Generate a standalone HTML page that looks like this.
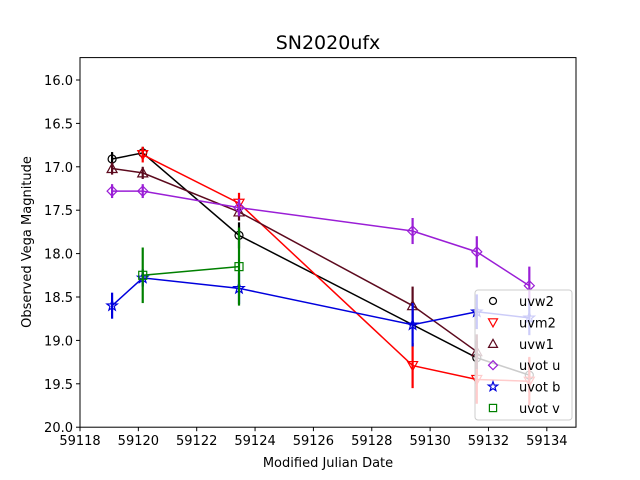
<!DOCTYPE html>
<html><head><meta charset="utf-8"><style>
body{margin:0;background:#fff;}
svg{display:block;font-family:"DejaVu Sans","Liberation Sans",sans-serif;}
</style></head><body>
<svg id="c" width="640" height="480">
<text x="328" y="49" font-size="19" text-anchor="middle">SN2020ufx</text>
<g id="plot"></g>
<rect x="80" y="57.6" width="496" height="369.6" fill="none" stroke="#000" stroke-width="1"/>
<g id="axes"></g>
<text x="328" y="467" font-size="13" text-anchor="middle">Modified Julian Date</text>
<text transform="translate(31,242) rotate(-90)" font-size="13" text-anchor="middle">Observed Vega Magnitude</text>
<g id="legend"></g>
</svg>
<script>
const xTicks=[59118,59120,59122,59124,59126,59128,59130,59132,59134];
const yTicks=[16.0,16.5,17.0,17.5,18.0,18.5,19.0,19.5,20.0];
const bandNames=["uvw2","uvm2","uvw1","uvot u","uvot b","uvot v"];
const uvw2X=[59119.1,59120.15,59123.45,59131.6,59133.4];
const uvw2Y=[16.91,16.84,17.79,19.2,19.4];
const uvw2E=[0.08,0.07,0.15,0.2,0.2];
const uvm2X=[59120.15,59123.45,59129.4,59131.6,59133.4];
const uvm2Y=[16.86,17.42,19.29,19.45,19.47];
const uvm2E=[0.09,0.12,0.26,0.28,0.28];
const uvw1X=[59119.1,59120.15,59123.45,59129.4,59131.6];
const uvw1Y=[17.02,17.07,17.52,18.6,19.13];
const uvw1E=[0.07,0.07,0.1,0.22,0.2];
const uvuX=[59119.1,59120.15,59123.45,59129.4,59131.6,59133.4];
const uvuY=[17.28,17.28,17.47,17.74,17.98,18.37];
const uvuE=[0.08,0.08,0.1,0.15,0.18,0.22];
const uvbX=[59119.1,59120.15,59123.45,59129.4,59131.6,59133.4];
const uvbY=[18.6,18.28,18.4,18.82,18.67,18.74];
const uvbE=[0.15,0.1,0.18,0.25,0.2,0.2];
const uvvX=[59120.15,59123.45];
const uvvY=[18.25,18.15];
const uvvE=[0.32,0.45];
const X0=59118,X1=59135,Y0=15.742,Y1=20.0,L=80,R=576,T=57.6,B=427.2;
const sx=v=>L+(v-X0)/(X1-X0)*(R-L);
const sy=v=>T+(v-Y0)/(Y1-Y0)*(B-T);
const NS="http://www.w3.org/2000/svg";
function mk(tag,attrs,parent){const e=document.createElementNS(NS,tag);for(const k in attrs)e.setAttribute(k,attrs[k]);parent.appendChild(e);return e;}
const axes=document.getElementById('axes');
xTicks.forEach(t=>{const x=sx(t);
 const l=mk('line',{x1:x,x2:x,y1:B,y2:B+4,stroke:'#000'},axes);
 
 
 const tx=mk('text',{x:x,y:B+18,'font-size':13,'text-anchor':'middle'},axes);tx.textContent=t;
 
 });
yTicks.forEach(t=>{const y=sy(t);
 const l=mk('line',{x1:L-4,x2:L,y1:y,y2:y,stroke:'#000'},axes);
 
 
 const tx=mk('text',{x:L-7,y:y+5,'font-size':13,'text-anchor':'end'},axes);tx.textContent=t.toFixed(1);
 
 });
function marker(kind,x,y,color,g,s){
 s=s||5;
 if(kind==='o')return mk('circle',{cx:x,cy:y,r:s-1,fill:'none',stroke:color,'stroke-width':1.2},g);
 if(kind==='v')return mk('polygon',{points:`${x-s},${y-s*0.8} ${x+s},${y-s*0.8} ${x},${y+s}`,fill:'none',stroke:color,'stroke-width':1.2},g);
 if(kind==='^')return mk('polygon',{points:`${x-s},${y+s*0.8} ${x+s},${y+s*0.8} ${x},${y-s}`,fill:'none',stroke:color,'stroke-width':1.2},g);
 if(kind==='D')return mk('polygon',{points:`${x},${y-s} ${x+s},${y} ${x},${y+s} ${x-s},${y}`,fill:'none',stroke:color,'stroke-width':1.2},g);
 if(kind==='*'){let p=[];for(let i=0;i<10;i++){const r=i%2?s*0.45:s*1.1;const a=-Math.PI/2+i*Math.PI/5;p.push((x+r*Math.cos(a)).toFixed(1)+','+(y+r*Math.sin(a)).toFixed(1));}return mk('polygon',{points:p.join(' '),fill:'none',stroke:color,'stroke-width':1.2},g);}
 return mk('rect',{x:x-s*0.8,y:y-s*0.8,width:s*1.6,height:s*1.6,fill:'none',stroke:color,'stroke-width':1.2},g);
}
const series=[
 {n:'uvw2',x:uvw2X,y:uvw2Y,e:uvw2E,c:'#000000',m:'o'},
 {n:'uvm2',x:uvm2X,y:uvm2Y,e:uvm2E,c:'#ff0000',m:'v'},
 {n:'uvw1',x:uvw1X,y:uvw1Y,e:uvw1E,c:'#5c0a1e',m:'^'},
 {n:'uvot-u',x:uvuX,y:uvuY,e:uvuE,c:'#9a1ed6',m:'D'},
 {n:'uvot-b',x:uvbX,y:uvbY,e:uvbE,c:'#0000dd',m:'*'},
 {n:'uvot-v',x:uvvX,y:uvvY,e:uvvE,c:'#008000',m:'s'}];
const plot=document.getElementById('plot');
series.forEach(s=>{
 const g=mk('g',{},plot);
 
 
 const pl=mk('polyline',{points:s.x.map((v,i)=>sx(v)+','+sy(s.y[i])).join(' '),fill:'none',stroke:s.c,'stroke-width':1.5},g);
 
 
 s.x.forEach((v,i)=>{
  const eb=mk('line',{x1:sx(v),x2:sx(v),y1:sy(s.y[i]-s.e[i]),y2:sy(s.y[i]+s.e[i]),stroke:s.c,'stroke-width':2.2},g);
  
  
  const m=marker(s.m,sx(v),sy(s.y[i]),s.c,g);
  
  
 });
});
const lg=document.getElementById('legend');
const box=mk('rect',{x:475,y:290,width:97,height:130,rx:3,fill:'#fff','fill-opacity':0.8,stroke:'#ccc','stroke-width':1},lg);


bandNames.forEach((n,i)=>{const y=301+i*21.4;
 const m=marker(series[i].m,493,y,series[i].c,lg,4.5);
 
 
 const t=mk('text',{x:519,y:y+5,'font-size':13},lg);t.textContent=n;
 
 });
</script>
</body></html>
